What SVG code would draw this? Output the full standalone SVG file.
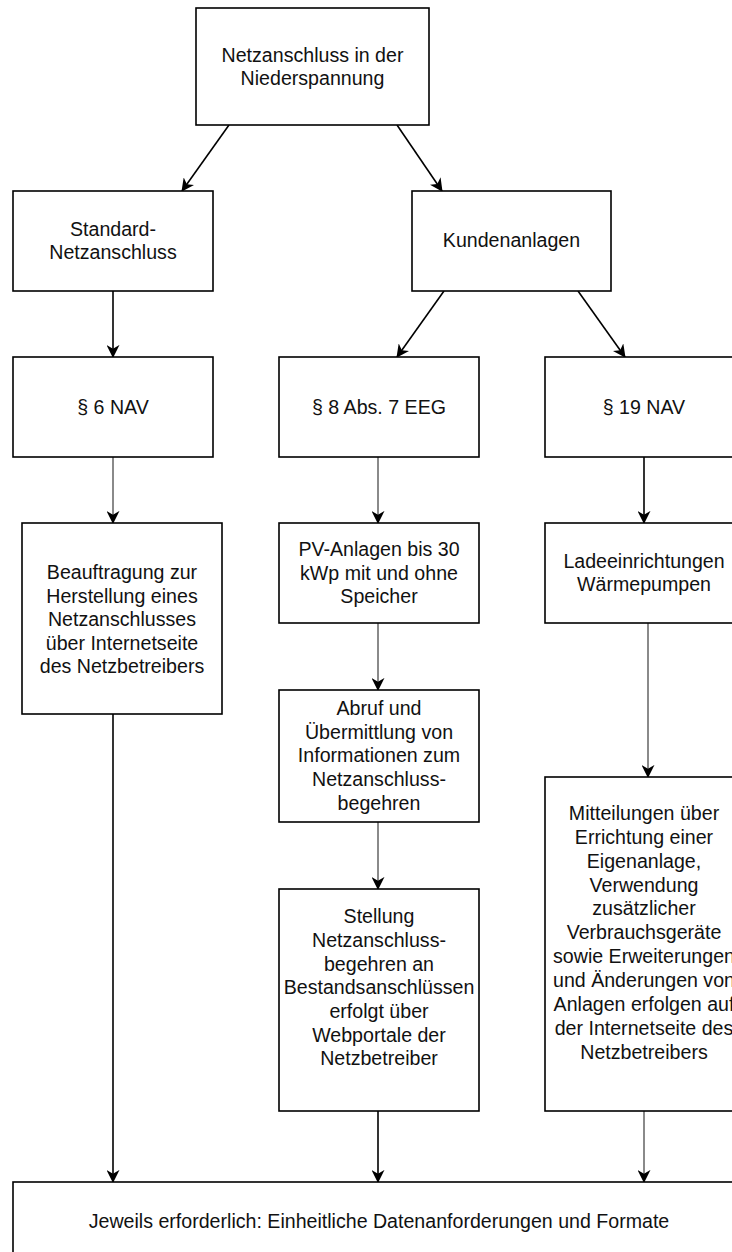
<svg xmlns="http://www.w3.org/2000/svg" width="732" height="1252" viewBox="0 0 732 1252">
<style>
.box{fill:#fff;stroke:#000;stroke-width:1.6}
.t{font-family:"Liberation Sans",Arial,sans-serif;font-size:19.6px;fill:#111;text-anchor:middle}
.c{fill:none;stroke:#000;stroke-width:1.6}
.g{fill:none;stroke:#8a8a8a;stroke-width:2}
</style>
<defs>
<marker id="ah" viewBox="0 0 14 14" refX="13" refY="7" markerWidth="13" markerHeight="13" markerUnits="userSpaceOnUse" orient="auto">
<path d="M0,0 L14,7 L0,14 L4,7 Z" fill="#000"/>
</marker>
</defs>
<rect width="732" height="1252" fill="#fff"/>
<g id="connectors">
<line class="c" x1="229" y1="125" x2="182" y2="191" marker-end="url(#ah)"/>
<line class="c" x1="397" y1="125" x2="442" y2="191" marker-end="url(#ah)"/>
<line class="c" x1="113" y1="291" x2="113" y2="357" marker-end="url(#ah)"/>
<line class="c" x1="444" y1="291" x2="397" y2="357" marker-end="url(#ah)"/>
<line class="c" x1="578" y1="291" x2="625" y2="357" marker-end="url(#ah)"/>
<line class="g" x1="113" y1="457" x2="113" y2="523" marker-end="url(#ah)"/>
<line class="g" x1="378" y1="457" x2="378" y2="523" marker-end="url(#ah)"/>
<line class="c" x1="644" y1="457" x2="644" y2="523" marker-end="url(#ah)"/>
<line class="g" x1="378" y1="623" x2="378" y2="690" marker-end="url(#ah)"/>
<line class="g" x1="378" y1="822" x2="378" y2="889" marker-end="url(#ah)"/>
<line class="g" x1="648" y1="623" x2="648" y2="777" marker-end="url(#ah)"/>
<line class="c" x1="113" y1="714" x2="113" y2="1182" marker-end="url(#ah)"/>
<line class="c" x1="378" y1="1111" x2="378" y2="1182" marker-end="url(#ah)"/>
<line class="g" x1="644" y1="1111" x2="644" y2="1182" marker-end="url(#ah)"/>
</g>
<g id="n-root">
<rect class="box" x="196" y="8" width="233" height="117"/>
<text class="t" x="312.5" y="61.5">Netzanschluss in der</text>
<text class="t" x="312.5" y="85">Niederspannung</text>
</g>
<g id="n-standard">
<rect class="box" x="13" y="191" width="200" height="100"/>
<text class="t" x="113" y="235.5">Standard-</text>
<text class="t" x="113" y="259">Netzanschluss</text>
</g>
<g id="n-kunden">
<rect class="box" x="412" y="191" width="199" height="100"/>
<text class="t" x="511.5" y="247">Kundenanlagen</text>
</g>
<g id="n-nav6">
<rect class="box" x="13" y="357" width="200" height="100"/>
<text class="t" x="113" y="413.5">§ 6 NAV</text>
</g>
<g id="n-eeg">
<rect class="box" x="279" y="357" width="200" height="100"/>
<text class="t" x="379" y="413.5">§ 8 Abs. 7 EEG</text>
</g>
<g id="n-nav19">
<rect class="box" x="545" y="357" width="200" height="100"/>
<text class="t" x="644" y="413.5">§ 19 NAV</text>
</g>
<g id="n-beauftragung">
<rect class="box" x="22" y="523" width="200" height="191"/>
<text class="t" x="122" y="579">Beauftragung zur</text>
<text class="t" x="122" y="602.5">Herstellung eines</text>
<text class="t" x="122" y="626">Netzanschlusses</text>
<text class="t" x="122" y="649.5">über Internetseite</text>
<text class="t" x="122" y="673">des Netzbetreibers</text>
</g>
<g id="n-pv">
<rect class="box" x="279" y="523" width="200" height="100"/>
<text class="t" x="379" y="556">PV-Anlagen bis 30</text>
<text class="t" x="379" y="579.5">kWp mit und ohne</text>
<text class="t" x="379" y="603">Speicher</text>
</g>
<g id="n-lade">
<rect class="box" x="545" y="523" width="200" height="100"/>
<text class="t" x="644" y="567.75">Ladeeinrichtungen</text>
<text class="t" x="644" y="591.25">Wärmepumpen</text>
</g>
<g id="n-abruf">
<rect class="box" x="279" y="690" width="200" height="132"/>
<text class="t" x="379" y="715">Abruf und</text>
<text class="t" x="379" y="738.7">Übermittlung von</text>
<text class="t" x="379" y="762.4">Informationen zum</text>
<text class="t" x="379" y="786.1">Netzanschluss-</text>
<text class="t" x="379" y="809.8">begehren</text>
</g>
<g id="n-stellung">
<rect class="box" x="279" y="889" width="200" height="222"/>
<text class="t" x="379" y="923.2">Stellung</text>
<text class="t" x="379" y="946.9">Netzanschluss-</text>
<text class="t" x="379" y="970.6">begehren an</text>
<text class="t" x="379" y="994.3">Bestandsanschlüssen</text>
<text class="t" x="379" y="1018">erfolgt über</text>
<text class="t" x="379" y="1041.7">Webportale der</text>
<text class="t" x="379" y="1065.4">Netzbetreiber</text>
</g>
<g id="n-mitteilungen">
<rect class="box" x="545" y="777" width="200" height="334"/>
<text class="t" x="644" y="819.8">Mitteilungen über</text>
<text class="t" x="644" y="843.7">Errichtung einer</text>
<text class="t" x="644" y="867.6">Eigenanlage,</text>
<text class="t" x="644" y="891.5">Verwendung</text>
<text class="t" x="644" y="915.4">zusätzlicher</text>
<text class="t" x="644" y="939.3">Verbrauchsgeräte</text>
<text class="t" x="644" y="963.2">sowie Erweiterungen</text>
<text class="t" x="644" y="987.1">und Änderungen von</text>
<text class="t" x="644" y="1011">Anlagen erfolgen auf</text>
<text class="t" x="644" y="1034.9">der Internetseite des</text>
<text class="t" x="644" y="1058.8">Netzbetreibers</text>
</g>
<g id="n-bottom">
<rect class="box" x="13" y="1182" width="732" height="80"/>
<text class="t" x="379" y="1228">Jeweils erforderlich: Einheitliche Datenanforderungen und Formate</text>
</g>
</svg>
